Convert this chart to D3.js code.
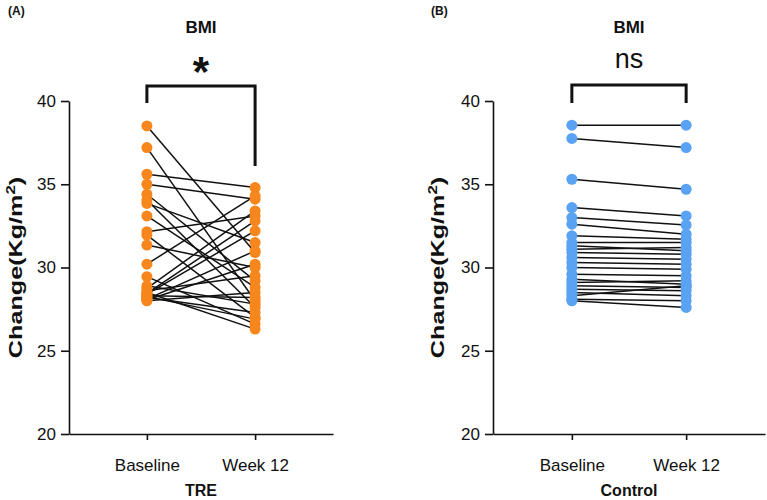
<!DOCTYPE html>
<html>
<head>
<meta charset="utf-8">
<script src="https://cdn.jsdelivr.net/npm/d3@7"></script>
<style>
  body { margin: 0; background: #fff; }
  svg { display: block; font-family: Arial, "Liberation Sans", sans-serif; }
</style>
</head>
<body>
<div id="chart"></div>
<script>
// Categorías del eje x
const timepoints = ['Baseline', 'Week 12'];
const yTicks = [20, 25, 30, 35, 40];

// Grupo TRE (panel A) - valores basal y semana 12 por sujeto
const treBaseline = [38.5, 37.2, 35.6, 35.0, 34.4, 34.05, 33.85, 33.1, 32.15, 31.95, 31.35, 30.2, 29.45,
  28.9, 28.75, 28.6, 28.5, 28.45, 28.4, 28.3, 28.25, 28.2, 28.1, 28.05, 28.0];
const treWeek12 = [30.9, 28.0, 34.8, 34.1, 29.2, 27.6, 31.5, 28.8, 33.1, 27.0, 30.0, 34.3, 26.6,
  27.8, 33.4, 29.5, 26.3, 32.8, 32.2, 28.2, 26.9, 27.3, 31.0, 30.2, 28.5];

// Grupo Control (panel B)
const ctlBaseline = [38.55, 37.75, 35.3, 33.6, 33.0, 32.6, 31.9, 31.5, 31.3, 31.1, 30.9, 30.6, 30.3,
  30.0, 29.6, 29.3, 29.1, 28.9, 28.7, 28.5, 28.3, 28.1, 28.0];
const ctlWeek12 = [38.55, 37.2, 34.7, 33.1, 32.55, 32.0, 31.7, 31.5, 31.0, 31.2, 30.8, 30.5, 30.2,
  29.9, 29.5, 29.0, 29.2, 28.8, 28.6, 28.3, 28.9, 28.0, 27.6];

const width = 767, height = 500;
const svg = d3.select('#chart').append('svg')
  .attr('width', width)
  .attr('height', height);

function drawPanel(opts) {
  const y = d3.scaleLinear().domain([20, 40]).range([434, 101]);
  const x = d3.scalePoint().domain(timepoints)
    .range([opts.left, opts.right]).padding(opts.pad);

  const g = svg.append('g');

  // Eje y
  const yAxis = g.append('g')
    .attr('transform', `translate(${opts.left},0)`)
    .call(d3.axisLeft(y).tickValues(yTicks).tickSize(8).tickSizeOuter(0).tickPadding(5));
  yAxis.select('.domain').attr('stroke', '#111').attr('stroke-width', 1.6);
  yAxis.selectAll('.tick line').attr('stroke', '#111').attr('stroke-width', 1.6);
  yAxis.selectAll('text').style('font-size', '17px').style('fill', '#111');

  // Eje x
  const xAxis = g.append('g')
    .attr('transform', 'translate(0,434)')
    .call(d3.axisBottom(x).tickSize(6).tickSizeOuter(0).tickPadding(19));
  xAxis.select('.domain').attr('stroke', '#111').attr('stroke-width', 1.6);
  xAxis.selectAll('.tick line').attr('stroke', '#111').attr('stroke-width', 1.6);
  xAxis.selectAll('text').style('font-size', '17px').style('fill', '#111');

  const cx = (x('Baseline') + x('Week 12')) / 2;

  // Líneas que unen pares
  const pairs = opts.base.map((b, i) => ({ b: b, w: opts.week[i] }));
  g.selectAll('.pair').data(pairs).enter().append('line')
    .attr('x1', x('Baseline')).attr('y1', d => y(d.b))
    .attr('x2', x('Week 12')).attr('y2', d => y(d.w))
    .attr('stroke', '#111').attr('stroke-width', 1.5);

  // Puntos
  g.selectAll('.pb').data(opts.base).enter().append('circle')
    .attr('cx', x('Baseline')).attr('cy', d => y(d)).attr('r', 5.5)
    .attr('fill', opts.color);
  g.selectAll('.pw').data(opts.week).enter().append('circle')
    .attr('cx', x('Week 12')).attr('cy', d => y(d)).attr('r', 5.5)
    .attr('fill', opts.color);

  // Corchete de significancia
  g.append('path')
    .attr('d', `M${x('Baseline')},${opts.bl}V${opts.bt}H${x('Week 12')}V${opts.br}`)
    .attr('fill', 'none').attr('stroke', '#111').attr('stroke-width', 3);

  g.append('text')
    .attr('x', cx).attr('y', opts.sigY)
    .attr('text-anchor', 'middle')
    .style('font-size', opts.sigSize).style('font-weight', opts.sigWeight)
    .style('fill', '#111')
    .text(opts.sig);

  // Título
  g.append('text')
    .attr('x', cx).attr('y', 33)
    .attr('text-anchor', 'middle')
    .style('font-size', '17px').style('font-weight', 'bold').style('fill', '#111')
    .text('BMI');

  // Etiqueta del grupo
  g.append('text')
    .attr('x', cx).attr('y', 496)
    .attr('text-anchor', 'middle')
    .style('font-size', '16px').style('font-weight', 'bold').style('fill', '#111')
    .text(opts.group);

  // Etiqueta eje y (estirada a lo largo como en el original)
  const yl = g.append('text')
    .attr('transform', `translate(${opts.labelX},${(434 + 101) / 2}) rotate(-90) scale(1.4,1)`)
    .attr('text-anchor', 'middle')
    .attr('dy', '0.35em')
    .style('font-size', '18px').style('font-weight', 'bold').style('fill', '#111');
  yl.append('tspan').text('Change(Kg/m');
  yl.append('tspan').attr('dy', -7).style('font-size', '12px').text('2');
  yl.append('tspan').attr('dy', 7).text(')');

  // Letra del panel
  g.append('text')
    .attr('x', opts.tagX).attr('y', 15)
    .style('font-size', '12px').style('font-weight', 'bold').style('fill', '#111')
    .text(opts.tag);
}

drawPanel({
  left: 69, right: 333, pad: 0.72, base: treBaseline, week: treWeek12, color: '#F7861C',
  sig: '*', sigY: 86, sigSize: '42px', sigWeight: 'bold', bt: 86, bl: 103, br: 166,
  group: 'TRE', tag: '(A)', tagX: 8, labelX: 16
});

drawPanel({
  left: 493, right: 765, pad: 0.69, base: ctlBaseline, week: ctlWeek12, color: '#5AA2F2',
  sig: 'ns', sigY: 68, sigSize: '27px', sigWeight: 'normal', bt: 85, bl: 103, br: 103,
  group: 'Control', tag: '(B)', tagX: 431, labelX: 438
});
</script>
</body>
</html>
